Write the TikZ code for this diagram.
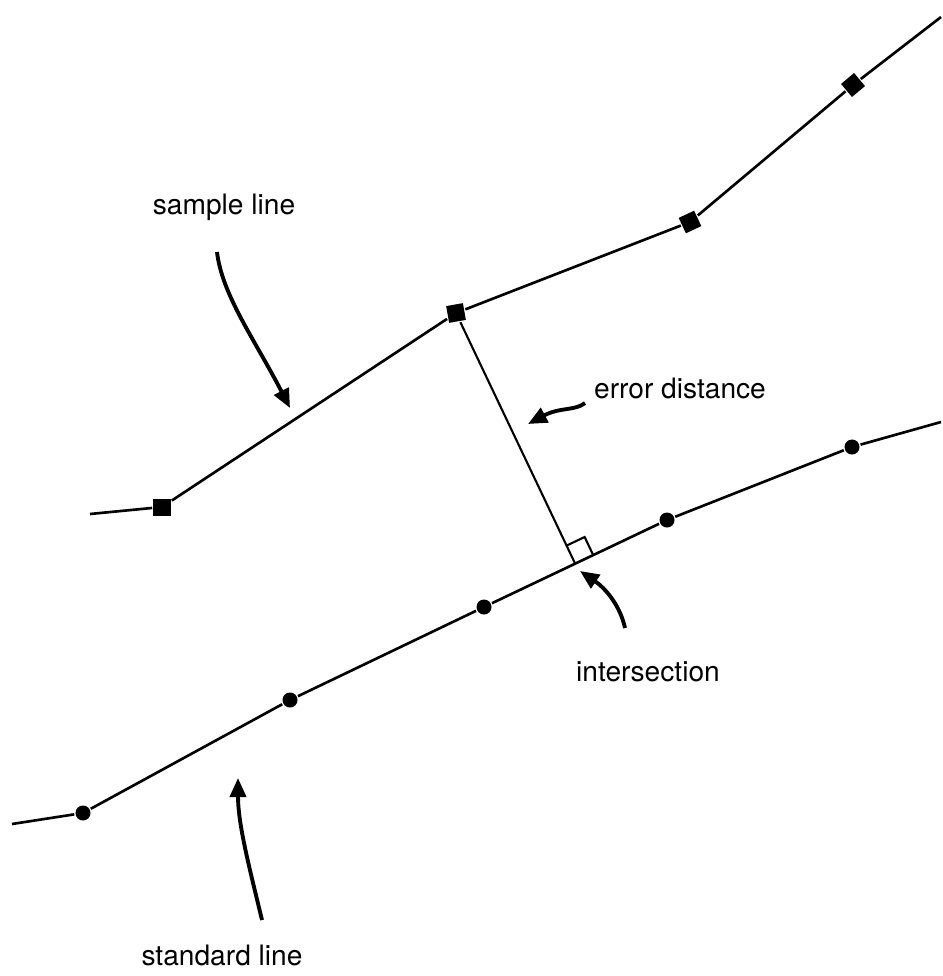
\documentclass[tikz,border=0pt]{standalone}
\usepackage{fontspec}
\setmainfont{TeX Gyre Heros}
\usetikzlibrary{calc,arrows.meta}
\tikzset{
  sq/.style={rectangle, fill=black, minimum size=1.7mm, inner sep=0pt},
  dot/.style={circle, fill=black, minimum size=1.5mm, inner sep=0pt},
  lbl/.style={font=\fontsize{8}{10}\selectfont},
  pointer/.style={line width=1.1pt, -{Triangle[length=1.9mm,width=1.6mm]}}
}
\begin{document}
\begin{tikzpicture}[x=0.01cm, y=-0.01cm, line width=0.75pt]
  \useasboundingbox (0,0) rectangle (942,976);
  % sample line
  \coordinate (sa) at (90,514); \coordinate (sb) at (941,17);
  \node[sq] (s1) at (162,507) {}; \node[sq, rotate=10] (s2) at (456,313) {};
  \node[sq, rotate=25] (s3) at (690,222) {}; \node[sq, rotate=40] (s4) at (853,85) {};
  \draw (sa) -- (s1) -- (s2) -- (s3) -- (s4) -- (sb);
  % standard line
  \coordinate (ta) at (12,824); \coordinate (tb) at (941,422);
  \node[dot] (c1) at (83,813) {}; \node[dot] (c2) at (290,700) {};
  \node[dot] (c3) at (484,607) {}; \node[dot] (c4) at (667,520) {};
  \node[dot] (c5) at (852,447) {};
  \draw (ta) -- (c1) -- (c2) -- (c3) -- (c4) -- (c5) -- (tb);
  % error distance and right angle
  \coordinate (ix) at ($(c3)!(s2)!(c4)$);
  \draw[line width=0.6pt] (s2) -- (ix);
  \coordinate (ixa) at ($(ix)!2mm!(c4)$); \coordinate (ixb) at ($(ix)!2mm!(s2)$);
  \draw[line width=0.6pt] (ixa) -- ($(ixa)+(ixb)-(ix)$) -- (ixb);
  % labels
  \node[lbl] (sl) at (224,207) {sample line};
  \node[lbl] (ed) at (680,388) {error distance};
  \node[lbl] (is) at (648,672) {intersection};
  \node[lbl] (st) at (222,955) {standard line};
  % pointers
  \coordinate (p1) at (217,252); \coordinate (q1) at (290,408);
  \draw[pointer] (p1) .. controls (222,295) and (255,340) .. (q1);
  \coordinate (p2) at (585,403); \coordinate (q2) at (528,424);
  \draw[pointer] (p2) .. controls (575,411) and (560,407) .. (q2);
  \coordinate (p3) at (625,628); \coordinate (q3) at (580,571);
  \draw[pointer] (p3) .. controls (620,605) and (605,588) .. (q3);
  \coordinate (p4) at (262,920); \coordinate (q4) at (238,778);
  \draw[pointer] (p4) .. controls (250,870) and (238,825) .. (q4);
\end{tikzpicture}
\end{document}
